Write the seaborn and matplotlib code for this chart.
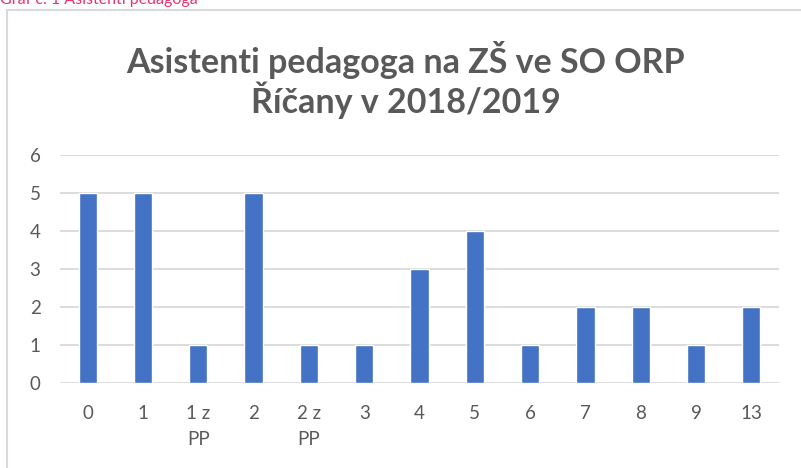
import matplotlib
matplotlib.use("Agg")
import matplotlib.pyplot as plt
from matplotlib.patches import Rectangle
import pandas as pd
import seaborn as sns

# data
categories = ["0", "1", "1 z\nPP", "2", "2 z\nPP", "3", "4", "5", "6", "7", "8", "9", "13"]
counts = [5, 5, 1, 5, 1, 1, 3, 4, 1, 2, 2, 1, 2]

title_line1 = "Asistenti pedagoga na ZŠ ve SO ORP"
title_line2 = "Říčany v 2018/2019"
caption = "Graf č. 1 Asistenti pedagoga"

sns.set_style("white")
plt.rcParams['font.family'] = ['Lato', 'DejaVu Sans']

df = pd.DataFrame({"cat": categories, "n": counts})

W, H = 801, 468
fig = plt.figure(figsize=(W / 100, H / 100), dpi=100)

# chart frame (only left and top edges visible in the reference)
fig.patches.append(Rectangle((7 / W, -0.1), 1.2, (H - 10) / H + 0.1,
                             transform=fig.transFigure, fill=False,
                             edgecolor="#d9d9d9", linewidth=1.5))

ax = fig.add_axes([60 / W, (H - 383) / H, (779 - 60) / W, (383 - 155) / H])
sns.barplot(data=df, x="cat", y="n", order=categories, color="#4472C4",
            width=0.33, saturation=1, ax=ax)

ax.set_ylim(0, 6)
ax.set_yticks(range(0, 7))
ax.set_xlim(-0.5, len(categories) - 0.5)
ax.yaxis.grid(True, color="#d9d9d9", linewidth=1.3)
ax.set_axisbelow(True)
for s in ax.spines.values():
    s.set_visible(False)
ax.set_xlabel("")
ax.set_ylabel("")
ax.tick_params(axis="both", length=0, labelsize=13.5, labelcolor="#595959")
ax.tick_params(axis="y", pad=14)
ax.tick_params(axis="x", pad=16)
for lab in ax.get_xticklabels():
    lab.set_linespacing(1.6)
    lab.set_verticalalignment("top")

fig.text(406 / W, 1 - 60 / H, title_line1, ha="center", va="center",
         fontsize=24.5, fontweight="bold", color="#595959")
fig.text(406 / W, 1 - 100 / H, title_line2, ha="center", va="center",
         fontsize=24.5, fontweight="bold", color="#595959")

# caption above the chart, cut off by the top edge like in the reference
fig.text(0, 1 - 4 / H, caption, ha="left", va="baseline",
         fontsize=11.5, color="#e6336e")

fig.savefig("out.png", dpi=100)
